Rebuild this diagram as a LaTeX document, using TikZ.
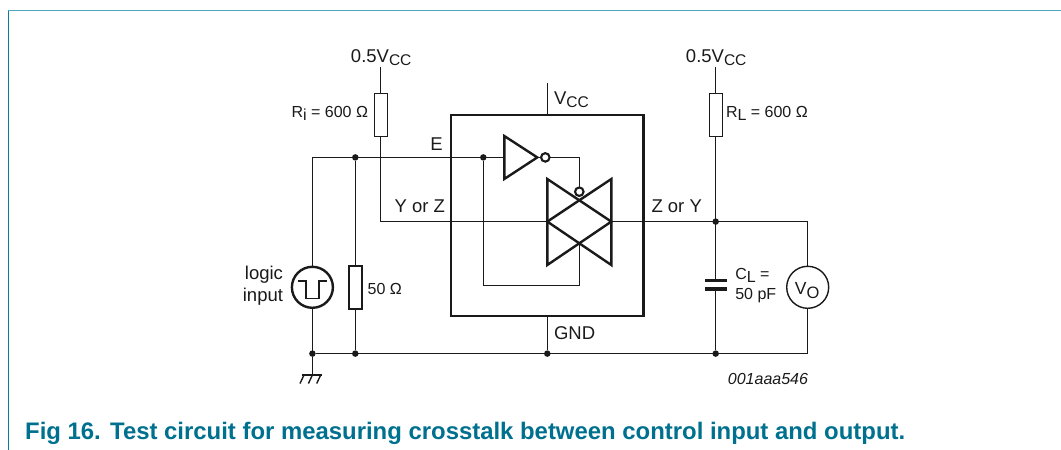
\documentclass[tikz,border=0pt]{standalone}
\usepackage{fontspec}
\setmainfont{Liberation Sans}
\definecolor{frametop}{HTML}{4FA6BE}
\definecolor{frameleft}{HTML}{0A7C99}
\definecolor{captionteal}{HTML}{00708F}
\definecolor{inkc}{HTML}{1A1A1A}
\newcommand{\sz}[1]{\fontsize{#1}{#1}\selectfont}
\newcommand{\lowsub}[2][3.5pt]{\raisebox{-#1}{\sz{15.5}#2}}
\tikzset{
  wire/.style={draw=inkc,line width=1.4pt},
  thick wire/.style={draw=inkc,line width=2.4pt,line join=miter},
  res/.style={draw=inkc,fill=white,line width=1.4pt,minimum width=13pt,minimum height=43pt,inner sep=0pt,outer sep=0pt},
  dotnode/.style={circle,fill=inkc,minimum size=6.5pt,inner sep=0pt,outer sep=0pt},
  bubble/.style={circle,draw=inkc,fill=white,line width=2.1pt,minimum size=8.5pt,inner sep=0pt,outer sep=0pt},
  lab/.style={inner sep=0pt,outer sep=0pt,text=inkc,font=\sz{18.5}},
  smalllab/.style={inner sep=0pt,outer sep=0pt,text=inkc,font=\sz{16}},
  captiontext/.style={inner sep=0pt,anchor=base west,font=\sz{23.9}\bfseries,text=captionteal},
}
\begin{document}
\begin{tikzpicture}[x=1pt,y=-1pt]
\useasboundingbox (0,0) rectangle (1061,450);
\draw[frametop,line width=1.5pt] (8,10.7) -- (1061,10.7);
\draw[frameleft,line width=1.1pt] (8.4,450) -- (8.4,10.7);
% junctions and terminals
\coordinate (srcTop) at (312.4,157.4);
\coordinate (srcBot) at (312.4,353.6);
\node[dotnode] (dE) at (355.3,157.4) {};
\node[dotnode] (dI) at (483.3,157.4) {};
\node[dotnode] (dG1) at (312.4,353.6) {};
\node[dotnode] (dG2) at (355.3,353.6) {};
\node[dotnode] (dG3) at (547.3,353.6) {};
\node[dotnode] (dG4) at (715.7,353.6) {};
\node[dotnode] (dO) at (715.7,221.6) {};
\coordinate (tl) at (547.3,221.6);
\coordinate (tr) at (611.3,221.6);
\coordinate (corner) at (807.7,353.6);
\coordinate (cornerT) at (807.7,221.6);
\coordinate (vccT) at (547.3,83);
\coordinate (boxT) at (547.3,115);
\coordinate (boxB) at (547.3,315.7);
\coordinate (Ri1) at (380.7,67);
\coordinate (RL1) at (715.7,67);
\coordinate (RiC) at (380.7,221.6);
% wires
\draw[wire] (dG1) -- (corner) -- (cornerT) -- (tr);
\draw[wire] (RiC) -- (tl);
\draw[wire] (srcBot) -- (srcTop) -- (542,157.4);
\draw[wire] (Ri1) -- (RiC);
\draw[wire] (dE) -- (dG2);
\draw[wire] (RL1) -- (dG4);
\draw[wire] (vccT) -- (boxT);
\draw[wire] (boxB) -- (dG3);
\draw[wire] (dI) -- (483.3,285.7) -- (579.3,285.7) -- (579.3,243);
\draw[wire] (545,157.4) -- (579.3,157.4) -- (579.3,191.7);
% ground
\draw[wire] (dG1) -- (312.4,375);
\draw[wire] (301.7,375) -- (321.7,375);
\draw[wire] (304,375) -- (300,383.5);
\draw[wire] (312.4,375) -- (308.4,383.5);
\draw[wire] (320.7,375) -- (316.7,383.5);
% IC box
\draw[thick wire] (451,115) rectangle (643.3,315.7);
% inverter
\draw[thick wire,fill=white] (504.3,136) -- (537.3,157.4) -- (504.3,179) -- cycle;
\node[bubble] (invB) at (545.3,157.4) {};
% transmission gates
\draw[thick wire] (547.3,179) -- (611.3,221.6) -- (547.3,265) -- cycle;
\draw[thick wire] (611.3,179) -- (547.3,221.6) -- (611.3,265) -- cycle;
\node[bubble] (tgB) at (579.3,191.7) {};
% resistors
\node[res] (Ri) at (380.7,114.7) {};
\node[res] (RL) at (715.7,114.7) {};
\node[res] (R50) at (355.3,287.5) {};
% capacitor
\fill[white] (705,281) rectangle (726.7,289);
\draw[inkc,line width=3.2pt] (705,280.7) -- (726.7,280.7);
\draw[inkc,line width=3.2pt] (705,289) -- (726.7,289);
% source
\node[circle,draw=inkc,fill=white,line width=2.4pt,minimum size=41pt,inner sep=0pt] (src) at (312.4,287.3) {};
\draw[wire] (298.3,281) -- (306,281) -- (306,298.3) -- (319,298.3) -- (319,281) -- (327,281);
\node[circle,draw=inkc,fill=white,line width=1.4pt,minimum size=42pt,inner sep=0pt] (vo) at (807.7,287.3) {};
% labels
\node[lab,anchor=base] (t1) at (381.2,62.7) {0.5V\lowsub[2.5pt]{CC}};
\node[lab,anchor=base] (t2) at (716.2,62.7) {0.5V\lowsub[2.5pt]{CC}};
\node[lab,anchor=base west] (t3) at (554,104) {V\lowsub{CC}};
\node[smalllab,anchor=base east] (t4) at (368,117) {R\raisebox{-3pt}{i} = 600 Ω};
\node[smalllab,anchor=base west] (t5) at (726,117) {R\raisebox{-3pt}{L} = 600 Ω};
\node[lab,anchor=base] (t6) at (436.5,150.7) {E};
\node[lab,anchor=base east] (t7) at (445,212.7) {Y or Z};
\node[lab,anchor=base west] (t8) at (651.5,212.7) {Z or Y};
\node[lab,anchor=base west] (t9) at (554,339) {GND};
\node[lab,anchor=base east] (t10) at (283,279.3) {logic};
\node[lab,anchor=base east] (t11) at (283,301.7) {input};
\node[smalllab,anchor=base west] (t12) at (367.7,294) {50 Ω};
\node[smalllab,anchor=base west] (t13) at (735.3,279.3) {C\raisebox{-3pt}{L} =};
\node[smalllab,anchor=base west] (t14) at (735.3,299) {50 pF};
\node[inner sep=0pt,outer sep=0pt,text=inkc,font=\sz{17.5},anchor=base] (t15) at (807.2,294) {V\raisebox{-4pt}{\sz{16.5}O}};
\node[smalllab,anchor=base east,font=\sz{16}\itshape] (t16) at (808,384) {001aaa546};
\node[captiontext] (cap1) at (25,439.3) {Fig 16.};
\node[captiontext] (cap2) at (110,439.3) {Test circuit for measuring crosstalk between control input and output.};
\end{tikzpicture}
\end{document}
